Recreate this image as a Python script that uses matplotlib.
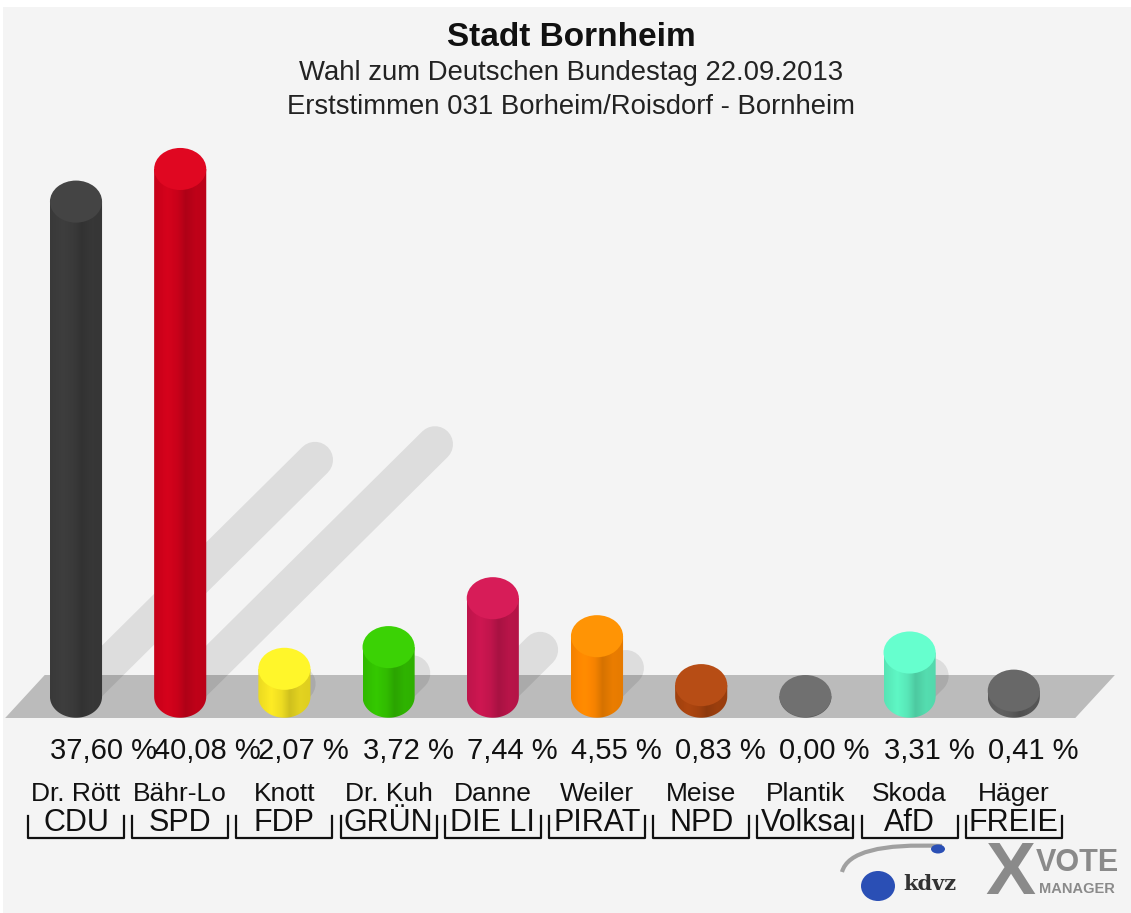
import matplotlib.pyplot as plt
import numpy as np
from matplotlib.patches import Polygon, Ellipse, PathPatch, Rectangle
from matplotlib.path import Path
from matplotlib.transforms import blended_transform_factory
from matplotlib.colors import to_rgb

plt.rcParams['font.family'] = ['Liberation Sans', 'DejaVu Sans']

# Erststimmen 2013, Stadt Bornheim, 031 Borheim/Roisdorf
names = ['Dr. Rött', 'Bähr-Lo', 'Knott', 'Dr. Kuh', 'Danne', 'Weiler', 'Meise', 'Plantik', 'Skoda', 'Häger']
parties = ['CDU', 'SPD', 'FDP', 'GRÜN', 'DIE LI', 'PIRAT', 'NPD', 'Volksa', 'AfD', 'FREIE']
values = [37.60, 40.08, 2.07, 3.72, 7.44, 4.55, 0.83, 0.00, 3.31, 0.41]
colors = ['#3c3c3c', '#d0021b', '#f7e523', '#33c300', '#c8164f', '#ff8800', '#a9440f', '#666666', '#5cf0bf', '#5e5e5e']

W, H = 1131, 913
fig = plt.figure(figsize=(W / 100, H / 100), dpi=100, facecolor='white')
# light grey panel, white rim at the top
fig.patches.append(Rectangle((3 / W, 0), 1 - 3 / W, 1 - 7 / H, transform=fig.transFigure,
                             facecolor='#f4f4f4', edgecolor='none', zorder=-1))

ax = fig.add_axes([0, 0, 1, 1])
ax.set_facecolor('none')
ax.axis('off')
# x: one unit per candidate, y: percent (0 at the floor top)
px_x, x0 = 104.2, 76
px_y, y0px = 13.15, 675

def fy(py):
    return 1 - py / H

bw = 0.5        # bar width
eh = 3.2        # ellipse height of cylinder ends
ybase = -1.65   # centre of bottom ellipse

# floor
ax.add_patch(Polygon([(-0.68, -3.27), (-0.30, 0), (9.97, 0), (9.59, -3.27)],
                     closed=True, facecolor='#bbbbbb', edgecolor='none', zorder=1))

# shadows
for i, v in enumerate(values):
    ax.plot([i, i + 0.061 * v], [ybase, ybase + 0.479 * v], color='black', alpha=0.09,
            lw=26, solid_capstyle='round', zorder=2)

prof_t = np.array([0.0, 0.25, 0.45, 0.6, 0.8, 1.0])
prof_f = np.array([0.95, 1.03, 0.96, 0.84, 0.92, 0.9])
t = np.linspace(0, 1, 60)
fac = np.interp(t, prof_t, prof_f)

for i, (v, c) in enumerate(zip(values, colors)):
    rgb = np.array(to_rgb(c))
    yt = ybase + v + 0.05
    grad = np.clip(fac[None, :, None] * rgb[None, None, :], 0, 1)
    ang = np.linspace(np.pi, 2 * np.pi, 40)
    verts = [(i - bw / 2, yt), (i - bw / 2, ybase)]
    verts += list(zip(i + bw / 2 * np.cos(ang), ybase + eh / 2 * np.sin(ang)))
    verts += [(i + bw / 2, yt), (i - bw / 2, yt)]
    body = PathPatch(Path(verts), facecolor='none', edgecolor='none', zorder=3)
    ax.add_patch(body)
    im = ax.imshow(grad, extent=[i - bw / 2, i + bw / 2, ybase - eh / 2, yt],
                   aspect='auto', zorder=3, interpolation='bilinear')
    im.set_clip_path(body)
    top = np.clip(rgb * 1.05 + 0.02, 0, 1)
    ax.add_patch(Ellipse((i, yt), bw, eh, facecolor=top, edgecolor='none', zorder=4))

ax.set_xlim(-x0 / px_x, (W - x0) / px_x)
ax.set_ylim((y0px - H) / px_y, y0px / px_y)

tr = blended_transform_factory(ax.transData, fig.transFigure)
for i, (v, n, p) in enumerate(zip(values, names, parties)):
    ax.text(i - bw / 2, fy(751), f'{v:.2f} %'.replace('.', ','), transform=tr, ha='left', va='center',
            fontsize=21, color='#111111')
    ax.text(i, fy(794), n, transform=tr, ha='center', va='center', fontsize=19, color='#111111')
    ax.text(i, fy(823), p, transform=tr, ha='center', va='center', fontsize=22, color='#111111')
    ax.plot([i - 0.46, i - 0.46, i + 0.46, i + 0.46], [fy(816), fy(838), fy(838), fy(816)],
            transform=tr, color='#111111', lw=1.6, clip_on=False)

fig.text(571 / W, fy(37), 'Stadt Bornheim', ha='center', va='center', fontsize=24,
         fontweight='bold', color='#111111')
fig.text(571 / W, fy(73), 'Wahl zum Deutschen Bundestag 22.09.2013', ha='center', va='center',
         fontsize=19.8, color='#222222')
fig.text(571 / W, fy(107), 'Erststimmen 031 Borheim/Roisdorf - Bornheim', ha='center', va='center',
         fontsize=19.8, color='#222222')

# logos (approximate)
swoosh = Path([(842 / W, fy(872)), (850 / W, fy(842)), (942 / W, fy(846))],
              [Path.MOVETO, Path.CURVE3, Path.CURVE3])
fig.patches.append(PathPatch(swoosh, transform=fig.transFigure, facecolor='none',
                             edgecolor='#a0a0a0', lw=3))
fig.patches.append(Ellipse((878 / W, fy(886)), 34 / W, 30 / H, transform=fig.transFigure,
                           facecolor='#2a4fb5', edgecolor='none'))
fig.patches.append(Ellipse((938 / W, fy(849)), 14 / W, 9 / H, transform=fig.transFigure,
                           facecolor='#2a4fb5', edgecolor='none'))
fig.text(930 / W, fy(884), 'kdvz', ha='center', va='center', fontsize=15, fontweight='bold',
         family='DejaVu Serif', color='#333333')
fig.text(1010 / W, fy(874), 'X', ha='center', va='center', fontsize=54, fontweight='bold', color='#8a8a8a')
fig.text(1077 / W, fy(863), 'VOTE', ha='center', va='center', fontsize=22, fontweight='bold', color='#8a8a8a')
fig.text(1077 / W, fy(889), 'MANAGER', ha='center', va='center', fontsize=10.5, fontweight='bold', color='#8a8a8a')

fig.savefig('out.png', dpi=100, facecolor=fig.get_facecolor())
